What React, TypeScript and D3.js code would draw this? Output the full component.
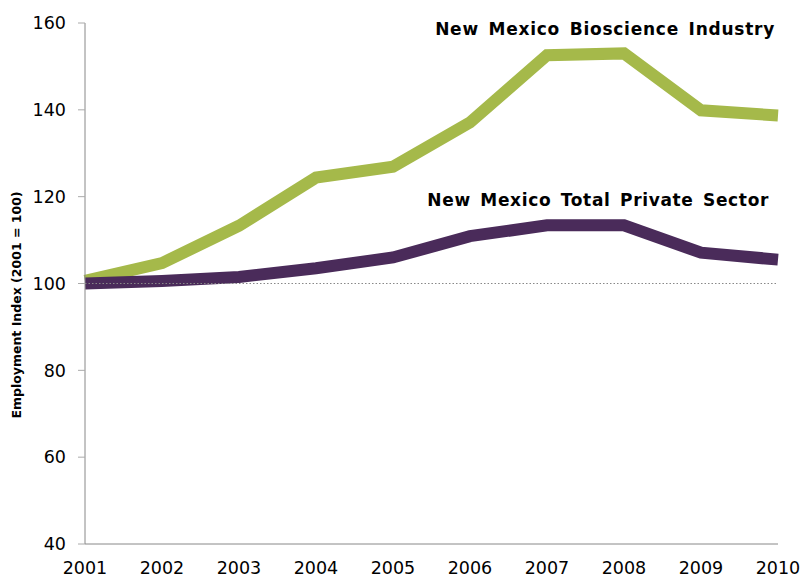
import React from "react";
import * as d3 from "d3";

const years = [2001, 2002, 2003, 2004, 2005, 2006, 2007, 2008, 2009, 2010];
const bioscience = [100.6, 104.7, 113.3, 124.4, 126.9, 137.1, 152.6, 153.0, 139.9, 138.7];
const privateSector = [100.0, 100.6, 101.5, 103.5, 106.0, 110.9, 113.4, 113.4, 107.1, 105.5];
const yTicks = [40, 60, 80, 100, 120, 140, 160];
const seriesLabels = ["New Mexico Bioscience Industry", "New Mexico Total Private Sector"];
const yTitle = "Employment Index (2001 = 100)";

export default function App() {
  const W = 802, H = 577;
  const x = d3.scaleLinear().domain([2001, 2010]).range([85, 778]);
  const y = d3.scaleLinear().domain([40, 160]).range([544, 23]);
  const line = d3.line<number>().x((_, i) => x(years[i])).y((d) => y(d));
  const font = "Verdana, 'DejaVu Sans', sans-serif";
  return (
    <svg width={W} height={H} style={{ position: "absolute", left: 0, top: 0 }}>
      <path d={line(bioscience) || ""} fill="none" stroke="#a5b94a" strokeWidth={12} strokeLinejoin="miter" />
      <path d={line(privateSector) || ""} fill="none" stroke="#4a2b5a" strokeWidth={12} strokeLinejoin="miter" />
      <line x1={x(2001)} x2={x(2010)} y1={y(100)} y2={y(100)} stroke="#888" strokeWidth={1} strokeDasharray="1.5,2" />
      <line x1={x(2001)} x2={x(2001)} y1={y(160)} y2={y(40)} stroke="#888" strokeWidth={1} />
      <line x1={x(2001)} x2={x(2010)} y1={y(40)} y2={y(40)} stroke="#888" strokeWidth={1} />
      {yTicks.map((t) => (
        <g key={t}>
          <line x1={x(2001) - 7} x2={x(2001)} y1={y(t)} y2={y(t)} stroke="#aaa" />
          <text x={x(2001) - 19} y={y(t)} dy="0.36em" textAnchor="end" fontFamily={font} fontSize={17.5} fill="#000">{t}</text>
        </g>
      ))}
      {years.map((yr) => (
        <text key={yr} x={x(yr)} y={574} textAnchor="middle" fontFamily={font} fontSize={17.5} fill="#000">{yr}</text>
      ))}
      <text transform={`translate(21,305) rotate(-90)`} textAnchor="middle" fontFamily={font} fontSize={12.5} fontWeight="bold" fill="#000">{yTitle}</text>
      <text x={775} y={35} textAnchor="end" fontFamily={font} fontSize={17} fontWeight="bold" letterSpacing={0.75} wordSpacing={3} fill="#000">{seriesLabels[0]}</text>
      <text x={769} y={206} textAnchor="end" fontFamily={font} fontSize={17} fontWeight="bold" letterSpacing={0.65} wordSpacing={3} fill="#000">{seriesLabels[1]}</text>
    </svg>
  );
}
